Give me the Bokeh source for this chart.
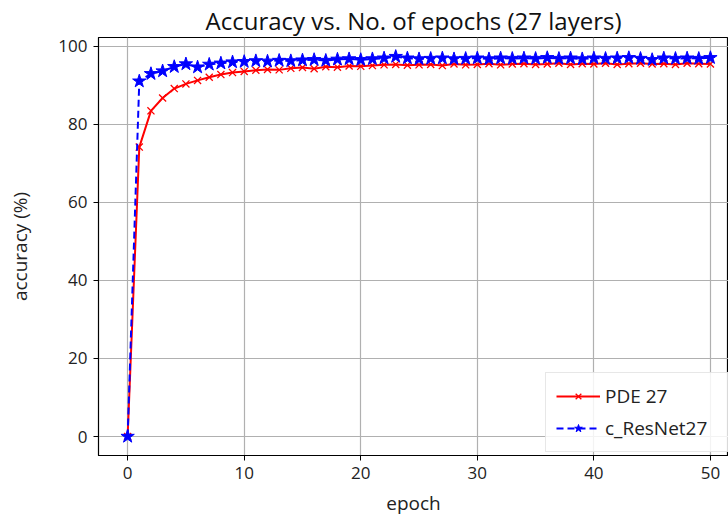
from bokeh.plotting import figure
from bokeh.models import Range1d, Legend, LegendItem, FixedTicker
from bokeh.embed import file_html
from bokeh.resources import INLINE

epochs = list(range(0, 51))
pde27 = [0.0, 74.2, 83.5, 86.8, 89.2, 90.4, 91.3, 92.1, 92.8, 93.3,
         93.6, 93.9, 94.1, 94.0, 94.4, 94.6, 94.3, 94.8, 94.7, 95.0,
         94.9, 95.1, 95.3, 95.4, 95.2, 95.3, 95.4, 95.1, 95.5, 95.3,
         95.4, 95.6, 95.3, 95.5, 95.6, 95.4, 95.5, 95.7, 95.4, 95.6,
         95.5, 95.7, 95.4, 95.6, 95.7, 95.5, 95.6, 95.4, 95.7, 95.6, 95.5]
cresnet27 = [0.0, 91.1, 93.0, 93.7, 94.8, 95.5, 94.7, 95.4, 95.7, 96.0,
             96.1, 96.3, 96.2, 96.4, 96.3, 96.5, 96.6, 96.4, 96.7, 96.8,
             96.6, 96.8, 97.0, 97.4, 97.0, 96.8, 96.9, 97.0, 96.8, 96.9,
             97.0, 96.8, 97.0, 96.9, 97.0, 96.9, 97.1, 96.9, 97.0, 96.8,
             97.0, 96.9, 97.0, 97.1, 96.9, 96.6, 97.0, 96.9, 97.0, 96.9, 97.1]
x_ticks = [0, 10, 20, 30, 40, 50]
y_ticks = [0, 20, 40, 60, 80, 100]

FONT = "Open Sans"

p = figure(width=728, height=520, output_backend="svg", toolbar_location=None,
           x_range=Range1d(-2.5, 51.55), y_range=Range1d(-4.87, 102.3),
           min_border_left=98, min_border_right=0, min_border_top=37,
           min_border_bottom=65)

p.title.text = "Accuracy vs. No. of epochs (27 layers)"
p.title.align = "center"
p.title.text_font = FONT
p.title.text_font_size = "24px"
p.title.text_font_style = "normal"
p.title.text_color = "#111111"
p.title.standoff = 2

p.outline_line_color = "black"
p.outline_line_width = 1.2
p.background_fill_color = "white"
p.border_fill_color = "white"

for ax in (p.xaxis[0], p.yaxis[0]):
    ax.major_label_text_font = FONT
    ax.major_label_text_font_size = "17px"
    ax.major_label_text_color = "#222222"
    ax.axis_label_text_font = FONT
    ax.axis_label_text_font_size = "19px"
    ax.axis_label_text_font_style = "normal"
    ax.axis_label_text_color = "#222222"
    ax.minor_tick_line_color = None
    ax.major_tick_out = 5
    ax.major_tick_in = 0
    ax.axis_line_color = "black"
    ax.major_tick_line_color = "black"

p.xaxis.ticker = FixedTicker(ticks=x_ticks)
p.yaxis.ticker = FixedTicker(ticks=y_ticks)
p.xaxis.axis_label = "epoch"
p.yaxis.axis_label = "accuracy (%)"
p.xaxis.axis_label_standoff = 8
p.yaxis.axis_label_standoff = 22
p.xaxis.major_label_standoff = 6
p.yaxis.major_label_standoff = 6

p.grid.grid_line_color = "#b0b0b0"
p.grid.grid_line_width = 1.2
p.grid.grid_line_alpha = 1.0

r1 = p.line(epochs, pde27, line_color="red", line_width=2)
m1 = p.scatter(epochs, pde27, marker="x", size=10, line_color="red", line_width=1.3)
r2 = p.line(epochs, cresnet27, line_color="blue", line_width=2, line_dash="7 4")
m2 = p.scatter(epochs, cresnet27, marker="star", size=14, fill_color="blue",
               line_color="blue")

legend = Legend(items=[LegendItem(label="PDE 27", renderers=[r1, m1]),
                       LegendItem(label="c_ResNet27", renderers=[r2, m2])],
                location=(447, 3))
legend.label_text_font = FONT
legend.label_text_font_size = "19px"
legend.label_text_color = "#222222"
legend.border_line_color = "#d0d0d0"
legend.border_line_width = 1
legend.background_fill_alpha = 0.85
legend.glyph_width = 44
legend.label_width = 125
legend.spacing = 6
legend.padding = 10
legend.margin = 0
p.add_layout(legend)

open("out.html", "w").write(file_html(p, INLINE))
